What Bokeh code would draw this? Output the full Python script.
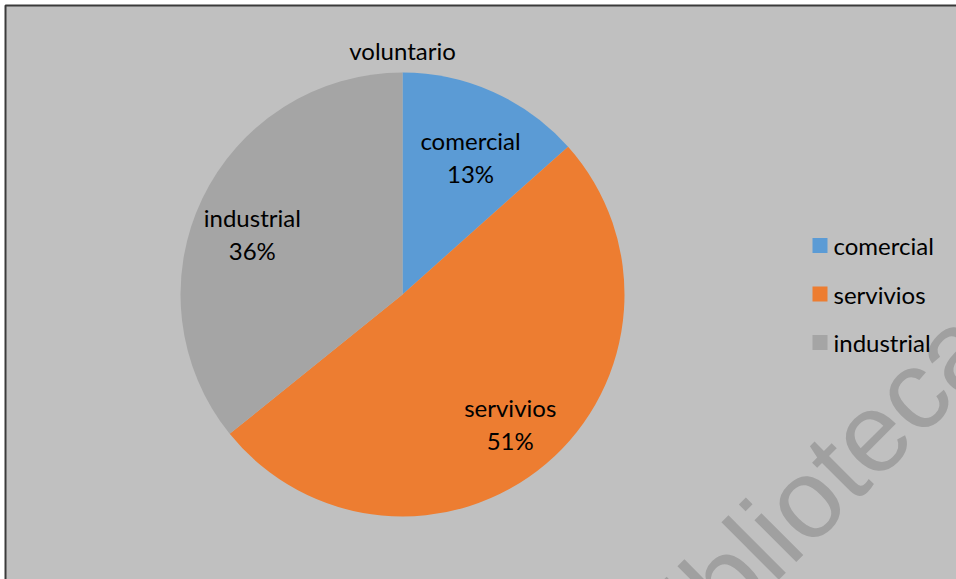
import math
from bokeh.plotting import figure
from bokeh.models import Range1d
from bokeh.core.properties import value
from bokeh.embed import file_html
from bokeh.resources import INLINE

# ---- data ----
title = "voluntario"
categories = ["comercial", "servivios", "industrial"]
values = [13.4, 50.8, 35.8]
colors = ["#5B9BD5", "#ED7D31", "#A5A5A5"]
watermark = "Biblioteca"

W, H = 956, 579
FONT = "Lato"

p = figure(width=W, height=H, output_backend="svg", toolbar_location=None,
           x_range=Range1d(0, W), y_range=Range1d(0, H), min_border=0)
p.axis.visible = False
p.grid.visible = False
p.background_fill_color = "#FFFFFF"
p.border_fill_color = "#FFFFFF"
p.outline_line_color = None

# chart area background with frame
p.quad(left=[5], right=[W + 20], bottom=[-20], top=[H - 5],
       fill_color="#C0C0C0", line_color="#3a3a3a", line_width=2)

cx, cy, R = 402, 285, 222
total = float(sum(values))

# watermark (behind pie)
p.text(x=[803], y=[H - 500], text=[watermark], angle=45, angle_units="deg",
       text_font=value("Liberation Sans"), text_font_size="112px",
       text_color="#A0A0A0", text_align="center", text_baseline="middle")

# slices clockwise from top
start = math.pi / 2
label_x, label_y, label_t = [], [], []
for cat, v, c in zip(categories, values, colors):
    sweep = 2 * math.pi * v / total
    end = start - sweep
    p.wedge(x=[cx], y=[cy], radius=R, start_angle=[end], end_angle=[start],
            fill_color=c, line_color=None)
    mid = (start + end) / 2
    label_x.append(cx + 0.75 * R * math.cos(mid))
    label_y.append(cy + 0.72 * R * math.sin(mid))
    label_t.append(f"{cat}\n{round(100 * v / total)}%")
    start = end

p.text(x=label_x, y=label_y, text=label_t, text_font=value(FONT),
       text_font_size="24px", text_color="#000000", text_align="center",
       text_baseline="middle", text_line_height=1.14, y_offset=8)

# title
p.text(x=[cx], y=[H - 50], text=[title], text_font=value(FONT), text_font_size="24px",
       text_color="#000000", text_align="center", text_baseline="middle")

# legend
ly0, dy = H - 245, 48.5
lys = [ly0 - i * dy for i in range(len(categories))]
p.scatter(x=[819.5] * len(categories), y=lys, marker="square", size=15,
          fill_color=colors, line_color=None)
p.text(x=[833] * len(categories), y=lys, text=categories, text_font=value(FONT),
       text_font_size="24px", text_color="#000000", text_align="left",
       text_baseline="middle")

open("out.html", "w").write(file_html(p, INLINE))
